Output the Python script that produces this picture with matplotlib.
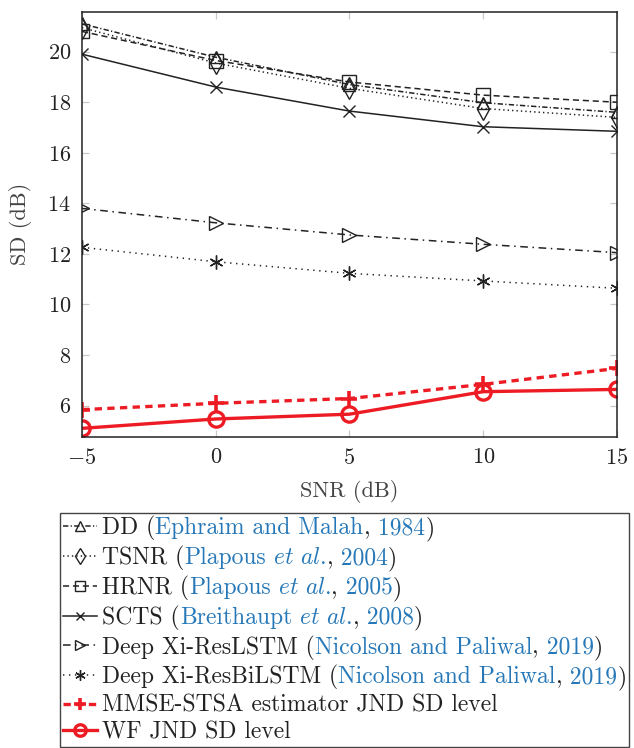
import numpy as np
import matplotlib
matplotlib.use("Agg")
import matplotlib.pyplot as plt
from matplotlib.offsetbox import TextArea, HPacker

# data (SD in dB vs input SNR in dB)
snr = [-5, 0, 5, 10, 15]
dd = [21.1, 19.78, 18.7, 17.98, 17.6]
tsnr = [20.95, 19.55, 18.55, 17.75, 17.4]
hrnr = [20.8, 19.65, 18.8, 18.28, 18.0]
scts = [19.9, 18.6, 17.65, 17.03, 16.85]
res_lstm = [13.8, 13.23, 12.75, 12.38, 12.05]
res_bilstm = [12.26, 11.69, 11.23, 10.93, 10.64]
mmse_jnd = [5.84, 6.09, 6.28, 6.84, 7.47]
wf_jnd = [5.1, 5.47, 5.66, 6.55, 6.64]

names = ["DD", "TSNR", "HRNR", "SCTS", "Deep Xi-ResLSTM", "Deep Xi-ResBiLSTM",
         "MMSE-STSA estimator JND SD level", "WF JND SD level"]
# (authors, et al.?, year) or None
cites = [("Ephraim and Malah", False, "1984"),
         ("Plapous", True, "2004"),
         ("Plapous", True, "2005"),
         ("Breithaupt", True, "2008"),
         ("Nicolson and Paliwal", False, "2019"),
         ("Nicolson and Paliwal", False, "2019"),
         None, None]

plt.rcParams['font.family'] = ['cmr10']
plt.rcParams['mathtext.fontset'] = 'cm'
plt.rcParams['axes.formatter.use_mathtext'] = True
plt.rcParams['axes.unicode_minus'] = True

red = '#ed1c24'
blue = '#2678b8'
ink = '#222222'
fs = 16
lfs = 17

fig = plt.figure(figsize=(6.34, 7.48), dpi=100)
ax = fig.add_axes([0.1293, 0.4162, 0.8438, 0.5678])

k = dict(color=ink, lw=1.1, mfc='none', mec=ink, mew=1.0)
ax.plot(snr, dd, marker='^', ms=9, dashes=(3.5, 1.5, 0.8, 1.5), **k)
ax.plot(snr, tsnr, marker='d', ms=11, dashes=(0.9, 2.0), **k)
ax.plot(snr, hrnr, marker='s', ms=10, dashes=(4, 2.5), **k)
ax.plot(snr, scts, marker='x', ms=8, ls='-', **k)
ax.plot(snr, res_lstm, marker='>', ms=10, dashes=(5, 3, 1, 3), **k)
ax.plot(snr, res_bilstm, marker=(6, 2, 0), ms=10, dashes=(0.9, 3.0), **k)
ax.plot(snr, mmse_jnd, color=red, lw=2.4, dashes=(2.2, 1.6), marker='+',
        ms=12, mew=2.6)
ax.plot(snr, wf_jnd, color=red, lw=2.4, ls='-', marker='o', ms=11,
        mfc='none', mew=2.4)

ax.set_xlim(-5, 15)
ax.set_ylim(4.77, 21.57)
ax.set_xticks([-5, 0, 5, 10, 15])
ax.set_yticks([6, 8, 10, 12, 14, 16, 18, 20])
ax.tick_params(direction='in', top=True, right=True, color='#c8c8c8',
               length=5, width=0.9, labelcolor=ink, labelsize=fs, pad=8)
for s in ax.spines.values():
    s.set_color(ink)
    s.set_linewidth(1.1)

ax.set_xlabel('SNR (dB)', fontsize=fs, color='#444444', labelpad=9)
ax.set_ylabel('SD (dB)', fontsize=fs, color='#444444', labelpad=11)

labels = [n + " (" if c else n for n, c in zip(names, cites)]
leg = fig.legend(ax.get_lines(), labels, loc='upper left',
                 bbox_to_anchor=(0.0946, 0.3142), fontsize=lfs,
                 labelcolor=ink, frameon=True, fancybox=False,
                 framealpha=1, edgecolor='#444444', borderpad=0.12,
                 handlelength=1.45, handletextpad=0.22, labelspacing=0.2,
                 markerscale=0.75, borderaxespad=0)
leg.get_frame().set_linewidth(1.0)

# append citation pieces in link colour after each label
rows = leg._legend_handle_box.get_children()[0].get_children()
for row, cite in zip(rows, cites):
    if cite is None:
        continue
    who, etal, year = cite
    parts = [(who, blue)]
    if etal:
        parts.append((r" $\mathit{et\ al.}$", blue))
    parts += [(",", ink), (" " + year, blue), (")", ink)]
    kids = row.get_children()
    extra = [TextArea(t, textprops=dict(color=c, fontsize=lfs)) for t, c in parts]
    box = HPacker(children=[kids[1]] + extra, pad=0, sep=0, align="baseline")
    box.set_figure(fig)
    kids[1] = box

fig.savefig("out.png", dpi=100)
